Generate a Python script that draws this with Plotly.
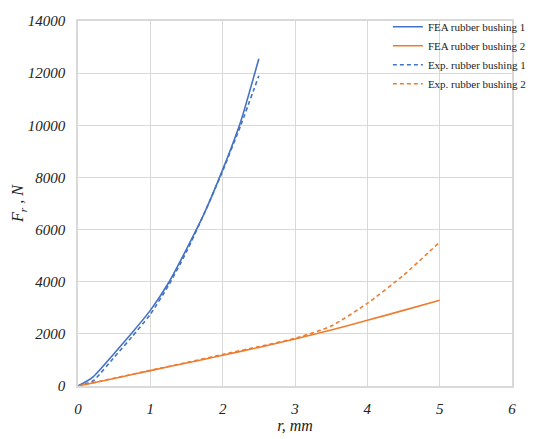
import plotly.graph_objects as go

# ---- data ----
r_b1 = [0, 0.2, 0.5, 0.75, 1.0, 1.25, 1.5, 1.75, 2.0, 2.25, 2.5]
fea_b1 = [0, 330, 1250, 2050, 2900, 3950, 5250, 6650, 8300, 10150, 12550]

r_b1_exp = [0, 0.2, 0.25, 0.5, 0.75, 1.0, 1.25, 1.5, 1.75, 2.0, 2.25, 2.5]
exp_b1 = [0, 180, 300, 1100, 1900, 2750, 3850, 5150, 6650, 8250, 10000, 11900]

r_b2 = [0, 0.5, 1.0, 1.5, 2.0, 2.5, 3.0, 3.5, 4.0, 4.5, 5.0]
fea_b2 = [0, 290, 590, 880, 1180, 1480, 1800, 2150, 2520, 2900, 3290]
exp_b2 = [0, 300, 600, 900, 1210, 1510, 1830, 2300, 3170, 4250, 5520]

names = ["FEA rubber bushing 1", "FEA rubber bushing 2",
         "Exp. rubber bushing 1", "Exp. rubber bushing 2"]
x_ticks = [0, 1, 2, 3, 4, 5, 6]
y_ticks = [0, 2000, 4000, 6000, 8000, 10000, 12000, 14000]

BLUE = "#4472C4"
ORANGE = "#ED7D31"
FONT = "Liberation Serif"

fig = go.Figure()
fig.add_trace(go.Scatter(x=r_b1, y=fea_b1, mode="lines", name=names[0],
                         line=dict(color=BLUE, width=1.6, shape="spline", smoothing=0.6)))
fig.add_trace(go.Scatter(x=r_b2, y=fea_b2, mode="lines", name=names[1],
                         line=dict(color=ORANGE, width=1.6, shape="spline", smoothing=0.6)))
fig.add_trace(go.Scatter(x=r_b1_exp, y=exp_b1, mode="lines", name=names[2],
                         line=dict(color=BLUE, width=1.6, dash="4px,3px", shape="spline", smoothing=0.6)))
fig.add_trace(go.Scatter(x=r_b2, y=exp_b2, mode="lines", name=names[3],
                         line=dict(color=ORANGE, width=1.6, dash="4px,3px", shape="spline", smoothing=0.6)))

grid = "#d9d9d9"
fig.update_layout(
    width=554, height=439,
    margin=dict(l=78, r=42, t=16, b=53),
    paper_bgcolor="white", plot_bgcolor="white",
    font=dict(family=FONT, color="#222222"),
    showlegend=True,
    legend=dict(x=0.714, y=1.024, xanchor="left", yanchor="top",
                bgcolor="rgba(0,0,0,0)", borderwidth=0,
                font=dict(family=FONT, size=11, color="#222222")),
    xaxis=dict(range=[0, 6], tickvals=x_ticks, ticktext=[str(v) for v in x_ticks],
               showgrid=True, gridcolor=grid, gridwidth=1, automargin=False,
               showline=True, linecolor=grid, linewidth=1.5, mirror=True,
               zeroline=False, ticks="", ticklabelstandoff=8,
               tickfont=dict(family=FONT, size=15, style="italic", color="#222222"),
               title=dict(text="r, mm", standoff=4,
                          font=dict(family=FONT, size=16, style="italic", color="#222222"))),
    yaxis=dict(range=[0, 14000], tickvals=y_ticks, ticktext=[str(v) for v in y_ticks],
               showgrid=True, gridcolor=grid, gridwidth=1, automargin=False,
               showline=True, linecolor=grid, linewidth=1.5, mirror=True,
               zeroline=False, ticks="", ticklabelstandoff=8,
               tickfont=dict(family=FONT, size=15, style="italic", color="#222222"),
               title=dict(text="F<sub>r</sub> , N", standoff=0,
                          font=dict(family=FONT, size=16, style="italic", color="#222222"))),
)

fig.write_html("out.html")
